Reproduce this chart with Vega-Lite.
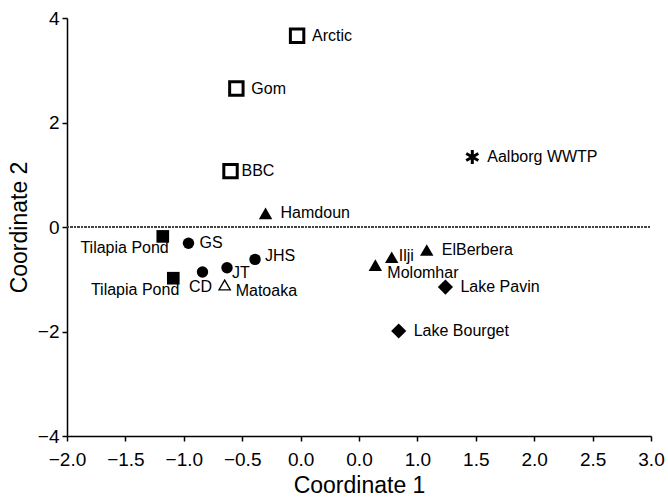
{
  "$schema": "https://vega.github.io/schema/vega-lite/v6.json",
  "width": 584,
  "height": 418,
  "autosize": {"type": "none"},
  "padding": {"left": 67, "top": 18, "right": 17, "bottom": 66},
  "background": "white",
  "config": {
    "view": {"stroke": null},
    "axis": {
      "grid": false,
      "domainColor": "black",
      "domainWidth": 1.5,
      "tickColor": "black",
      "tickWidth": 1.5,
      "tickSize": 5,
      "labelFont": "Liberation Sans",
      "labelFontSize": 19,
      "labelColor": "black",
      "labelFlush": false,
      "labelOverlap": false,
      "titleFont": "Liberation Sans",
      "titleFontSize": 23,
      "titleFontWeight": "normal",
      "titleColor": "black"
    },
    "text": {"font": "Liberation Sans", "fontSize": 16, "color": "black", "baseline": "middle", "align": "left"}
  },
  "data": {
    "values": [
      {"name": "Arctic", "x": -0.03, "y": 3.66, "group": "g1"},
      {"name": "Gom", "x": -0.55, "y": 2.65, "group": "g1"},
      {"name": "BBC", "x": -0.60, "y": 1.07, "group": "g1"},
      {"name": "Aalborg WWTP", "x": 1.47, "y": 1.34, "group": "g7"},
      {"name": "Hamdoun", "x": -0.30, "y": 0.26, "group": "g4"},
      {"name": "Tilapia Pond", "x": -1.18, "y": -0.18, "group": "g2"},
      {"name": "GS", "x": -0.96, "y": -0.31, "group": "g3"},
      {"name": "JHS", "x": -0.39, "y": -0.62, "group": "g3"},
      {"name": "JT", "x": -0.63, "y": -0.78, "group": "g3"},
      {"name": "CD", "x": -0.84, "y": -0.86, "group": "g3"},
      {"name": "Tilapia Pond", "x": -1.09, "y": -0.98, "group": "g2"},
      {"name": "Matoaka", "x": -0.65, "y": -1.11, "group": "g5"},
      {"name": "Molomhar", "x": 0.64, "y": -0.73, "group": "g4"},
      {"name": "Ilji", "x": 0.78, "y": -0.58, "group": "g4"},
      {"name": "ElBerbera", "x": 1.08, "y": -0.44, "group": "g4"},
      {"name": "Lake Pavin", "x": 1.24, "y": -1.15, "group": "g6"},
      {"name": "Lake Bourget", "x": 0.84, "y": -1.99, "group": "g6"}
    ]
  },
  "encoding": {
    "x": {
      "field": "x", "type": "quantitative",
      "scale": {"domain": [-2, 3], "nice": false, "zero": false},
      "axis": {
        "title": "Coordinate 1",
        "values": [-2, -1.5, -1, -0.5, 0, 0.5, 1, 1.5, 2, 2.5, 3],
        "labelExpr": "datum.value == 0.5 ? '0.0' : format(datum.value, '.1f')",
        "labelPadding": 9,
        "titlePadding": 5
      }
    },
    "y": {
      "field": "y", "type": "quantitative",
      "scale": {"domain": [-4, 4], "nice": false, "zero": false},
      "axis": {
        "title": "Coordinate 2",
        "values": [-4, -2, 0, 2, 4],
        "format": "d",
        "labelPadding": 3,
        "titlePadding": 6
      }
    }
  },
  "layer": [
    {
      "mark": {"type": "rule", "color": "#444", "strokeWidth": 0.8, "strokeDash": [2, 1.5]},
      "encoding": {"y": {"datum": 0}, "x": {"datum": -2}, "x2": {"datum": 3}}
    },
    {
      "transform": [{"filter": "datum.group == 'g1'"}],
      "mark": {"type": "point", "shape": "square", "filled": false, "stroke": "black", "strokeWidth": 3, "size": 180, "opacity": 1}
    },
    {
      "transform": [{"filter": "datum.group == 'g2'"}],
      "mark": {"type": "point", "shape": "square", "filled": true, "color": "black", "size": 160, "opacity": 1}
    },
    {
      "transform": [{"filter": "datum.group == 'g3'"}],
      "mark": {"type": "point", "shape": "circle", "filled": true, "color": "black", "size": 130, "opacity": 1}
    },
    {
      "transform": [{"filter": "datum.group == 'g4'"}],
      "mark": {"type": "point", "shape": "triangle-up", "filled": true, "color": "black", "size": 180, "opacity": 1}
    },
    {
      "transform": [{"filter": "datum.group == 'g5'"}],
      "mark": {"type": "point", "shape": "triangle-up", "filled": false, "stroke": "black", "strokeWidth": 1.3, "size": 130, "opacity": 1}
    },
    {
      "transform": [{"filter": "datum.group == 'g6'"}],
      "mark": {"type": "point", "shape": "diamond", "filled": true, "color": "black", "size": 230, "opacity": 1}
    },
    {
      "transform": [{"filter": "datum.group == 'g7'"}],
      "mark": {"type": "point", "shape": "M0,-1V1M-0.866,-0.5L0.866,0.5M-0.866,0.5L0.866,-0.5", "filled": false, "stroke": "black", "strokeWidth": 3, "size": 196, "opacity": 1}
    },
    {
      "transform": [{"filter": {"field": "name", "oneOf": ["Arctic", "Gom", "Hamdoun", "ElBerbera", "Lake Pavin", "Lake Bourget", "Aalborg WWTP"]}}],
      "mark": {"type": "text", "dx": 15},
      "encoding": {"text": {"field": "name"}}
    },
    {
      "transform": [{"filter": {"field": "name", "oneOf": ["BBC", "GS"]}}],
      "mark": {"type": "text", "dx": 11},
      "encoding": {"text": {"field": "name"}}
    },
    {
      "transform": [{"filter": "datum.name == 'JHS'"}],
      "mark": {"type": "text", "dx": 10, "dy": -3},
      "encoding": {"text": {"field": "name"}}
    },
    {
      "transform": [{"filter": "datum.name == 'JT'"}],
      "mark": {"type": "text", "dx": 5, "dy": 5},
      "encoding": {"text": {"field": "name"}}
    },
    {
      "transform": [{"filter": "datum.name == 'CD'"}],
      "mark": {"type": "text", "align": "center", "dx": -2, "dy": 15},
      "encoding": {"text": {"field": "name"}}
    },
    {
      "transform": [{"filter": "datum.name == 'Matoaka'"}],
      "mark": {"type": "text", "dx": 11, "dy": 6},
      "encoding": {"text": {"field": "name"}}
    },
    {
      "transform": [{"filter": "datum.name == 'Molomhar'"}],
      "mark": {"type": "text", "dx": 12, "dy": 8},
      "encoding": {"text": {"field": "name"}}
    },
    {
      "transform": [{"filter": "datum.name == 'Ilji'"}],
      "mark": {"type": "text", "dx": 7, "dy": -1},
      "encoding": {"text": {"field": "name"}}
    },
    {
      "transform": [{"filter": "datum.name == 'Tilapia Pond'"}],
      "mark": {"type": "text", "align": "right", "dx": 6, "dy": 12},
      "encoding": {"text": {"field": "name"}}
    }
  ]
}
